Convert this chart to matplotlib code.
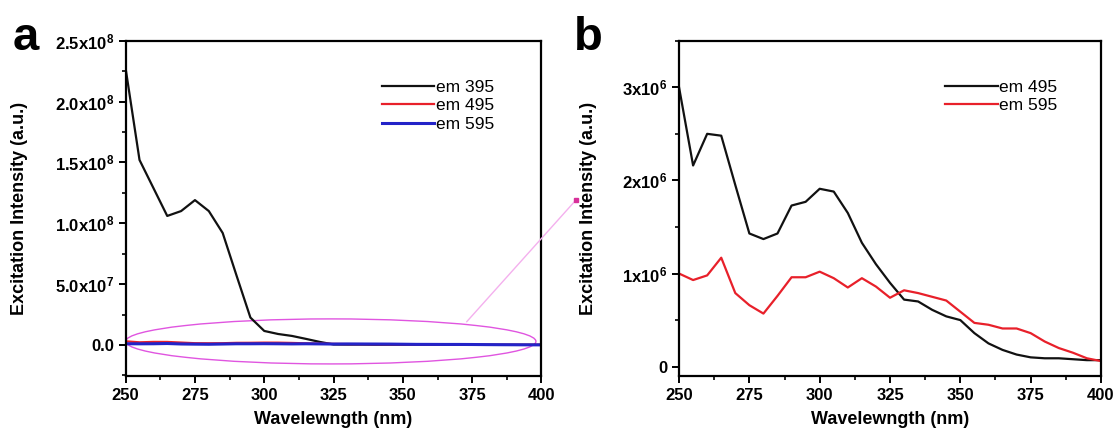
import numpy as np
import matplotlib
matplotlib.use("Agg")
import matplotlib.pyplot as plt
from matplotlib.patches import Ellipse, ConnectionPatch
from matplotlib.ticker import MultipleLocator

plt.rcParams['font.family'] = ['Liberation Sans', 'DejaVu Sans']
plt.rcParams['font.weight'] = 'bold'
plt.rcParams['mathtext.fontset'] = 'custom'
plt.rcParams['mathtext.rm'] = 'Liberation Sans:bold'
plt.rcParams['mathtext.bf'] = 'Liberation Sans:bold'
plt.rcParams['mathtext.default'] = 'bf'

# excitation wavelength (nm)
wl = np.arange(250, 401, 5)

# excitation spectra for each emission wavelength
em395 = [2.27e8, 1.52e8, 1.29e8, 1.06e8, 1.10e8, 1.19e8, 1.10e8, 0.92e8, 0.57e8, 0.225e8,
         0.115e8, 0.09e8, 0.074e8, 0.05e8, 0.025e8, 0.004e8, 0.003e8, 0.003e8, 0.002e8, 0.002e8,
         0.002e8, 0.002e8, 0.001e8, 0.001e8, 0.001e8, 0.001e8, 0.001e8, 0.001e8, 0.001e8, 0.001e8,
         0.001e8]
em495 = [3.00e6, 2.16e6, 2.50e6, 2.48e6, 1.95e6, 1.43e6, 1.37e6, 1.43e6, 1.73e6, 1.77e6,
         1.91e6, 1.88e6, 1.65e6, 1.33e6, 1.10e6, 0.90e6, 0.72e6, 0.70e6, 0.61e6, 0.54e6,
         0.50e6, 0.36e6, 0.25e6, 0.18e6, 0.13e6, 0.10e6, 0.09e6, 0.09e6, 0.08e6, 0.07e6,
         0.07e6]
em595 = [1.00e6, 0.93e6, 0.98e6, 1.17e6, 0.79e6, 0.66e6, 0.57e6, 0.76e6, 0.96e6, 0.96e6,
         1.02e6, 0.95e6, 0.85e6, 0.95e6, 0.86e6, 0.74e6, 0.82e6, 0.79e6, 0.75e6, 0.71e6,
         0.59e6, 0.47e6, 0.45e6, 0.41e6, 0.41e6, 0.36e6, 0.27e6, 0.20e6, 0.15e6, 0.09e6,
         0.06e6]

left_ticks = [0, 5e7, 1e8, 1.5e8, 2e8, 2.5e8]
left_labels = ['0.0', '5.0x10$^{7}$', '1.0x10$^{8}$', '1.5x10$^{8}$', '2.0x10$^{8}$', '2.5x10$^{8}$']
right_ticks = [0, 1e6, 2e6, 3e6]
right_labels = ['0', '1x10$^{6}$', '2x10$^{6}$', '3x10$^{6}$']

black = '#111111'
red = '#e8202a'
blue = '#2323c8'

fig = plt.figure(figsize=(11.13, 4.38), dpi=100)
ax1 = fig.add_axes([0.1129, 0.1416, 0.3736, 0.7655])
ax2 = fig.add_axes([0.6101, 0.1416, 0.3791, 0.7655])


def style(ax):
    for s in ax.spines.values():
        s.set_linewidth(1.6)
    ax.set_xlim(250, 400)
    ax.xaxis.set_major_locator(MultipleLocator(25))
    ax.xaxis.set_minor_locator(MultipleLocator(12.5))
    ax.tick_params(which='major', direction='out', length=5, width=1.4, labelsize=12)
    ax.tick_params(which='minor', direction='out', length=3, width=1.2)
    ax.tick_params(top=False, right=False, which='both')
    ax.set_xlabel('Wavelewngth (nm)', fontsize=13, fontweight='bold', labelpad=6)
    ax.set_ylabel('Excitation Intensity (a.u.)', fontsize=13, fontweight='bold')


legend_font = {'size': 12.5, 'weight': 'normal'}

# panel a
ax1.plot(wl, em395, color=black, lw=1.6, label='em 395')
ax1.plot(wl, em495, color=red, lw=1.6, label='em 495')
ax1.plot(wl, em595, color=blue, lw=2.2, label='em 595')
style(ax1)
ax1.set_ylim(-2.55e7, 2.5e8)
ax1.set_yticks(left_ticks)
ax1.set_yticklabels(left_labels)
ax1.yaxis.set_minor_locator(MultipleLocator(2.5e7))
ax1.yaxis.set_label_coords(-0.235, 0.5)
ax1.legend(loc='upper left', bbox_to_anchor=(0.6, 0.905), frameon=False, prop=legend_font,
           handlelength=3.0, handletextpad=0.1, labelspacing=0.2, borderaxespad=0)

# highlighted region near the baseline
ell = Ellipse((324, 0.29e7), 148, 3.7e7, fill=False, edgecolor='#e055e0', lw=1.0)
ax1.add_patch(ell)
con = ConnectionPatch(xyA=(373, 1.9e7), coordsA=ax1.transData,
                      xyB=(0.5175, 0.5434), coordsB=fig.transFigure,
                      color='#f4b0ee', lw=1.0)
fig.add_artist(con)
fig.lines.append(plt.Line2D([0.5175], [0.5434], transform=fig.transFigure, marker='s',
                            markersize=3, color='#d8309a', linestyle='none'))

# panel b
ax2.plot(wl, em495, color=black, lw=1.6, label='em 495')
ax2.plot(wl, em595, color=red, lw=1.6, label='em 595')
style(ax2)
ax2.set_ylim(-0.1e6, 3.5e6)
ax2.set_yticks(right_ticks)
ax2.set_yticklabels(right_labels)
ax2.yaxis.set_minor_locator(MultipleLocator(0.5e6))
ax2.yaxis.set_label_coords(-0.194, 0.5)
ax2.legend(loc='upper left', bbox_to_anchor=(0.615, 0.905), frameon=False, prop=legend_font,
           handlelength=3.0, handletextpad=0.1, labelspacing=0.2, borderaxespad=0)

fig.text(0.011, 0.886, 'a', fontsize=34, fontweight='bold')
fig.text(0.516, 0.886, 'b', fontsize=34, fontweight='bold')

fig.savefig('out.png', dpi=100)
